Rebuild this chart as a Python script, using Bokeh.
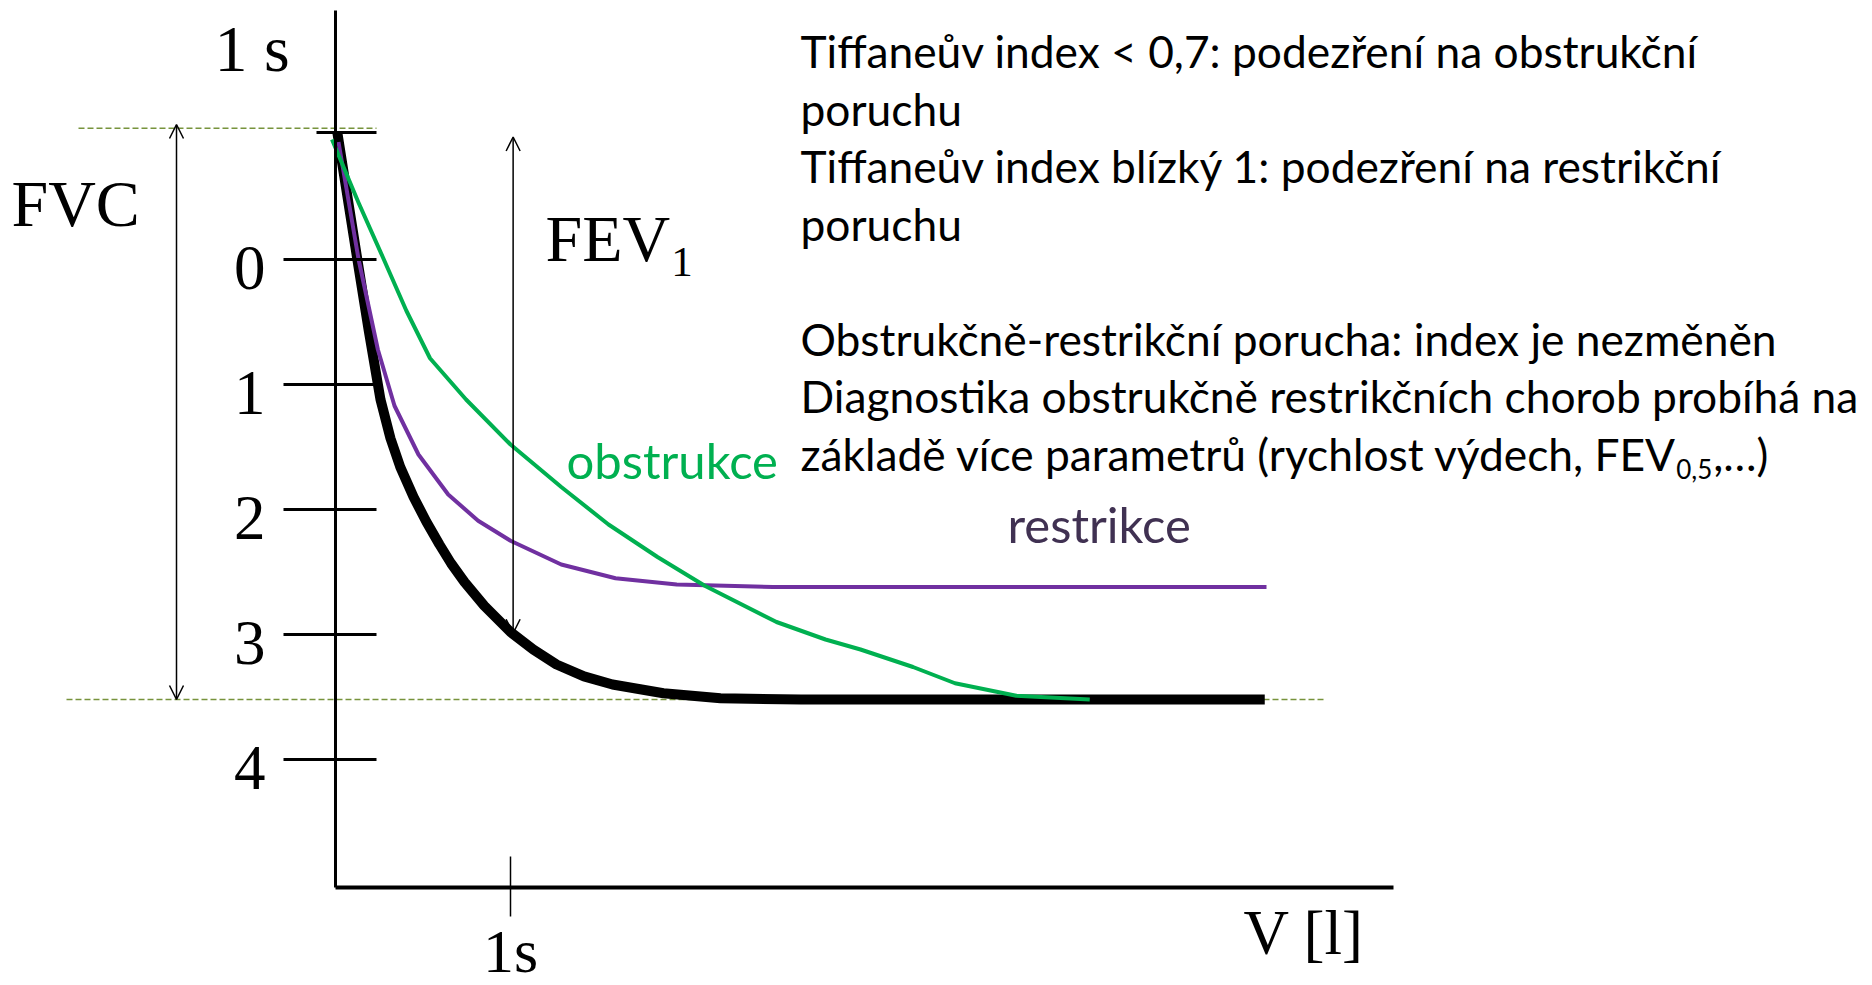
import glob
from bokeh.plotting import figure
from bokeh.models import Range1d, LinearAxis, FixedTicker, Arrow, OpenHead
from bokeh.core.properties import value
from bokeh.embed import file_html
from bokeh.resources import INLINE

# ---------------- data (time in s, volume in l, volume axis drawn downward) ----------------
t_normal = [0.01, 0.126, 0.19, 0.257, 0.314, 0.37, 0.446, 0.52, 0.594, 0.66, 0.737, 0.85, 1.0,
            1.13, 1.263, 1.42, 1.583, 1.874, 2.2, 2.66, 5.31]
v_normal = [-1.02, 0.01, 0.57, 1.12, 1.43, 1.66, 1.90, 2.10, 2.28, 2.43, 2.58, 2.77, 2.98,
            3.12, 3.24, 3.335, 3.40, 3.47, 3.51, 3.52, 3.52]

t_restr = [0.017, 0.132, 0.242, 0.337, 0.474, 0.644, 0.815, 1.0, 1.29, 1.6, 1.95, 2.5, 5.32]
v_restr = [-0.94, 0.0, 0.72, 1.17, 1.56, 1.88, 2.09, 2.25, 2.44, 2.55, 2.60, 2.62, 2.62]

t_obstr = [-0.02, 0.133, 0.27, 0.405, 0.54, 0.746, 1.0, 1.29, 1.56, 1.84, 2.11, 2.52, 2.8,
           3.0, 3.3, 3.54, 3.89, 4.31]
v_obstr = [-0.96, -0.45, -0.02, 0.41, 0.79, 1.12, 1.48, 1.82, 2.12, 2.38, 2.61, 2.90, 3.04,
           3.12, 3.26, 3.39, 3.49, 3.52]

y_ticks = [0, 1, 2, 3, 4]
y_tick_labels = ["0", "1", "2", "3", "4"]
x_ticks = [1]
x_tick_labels = {1: "1s"}

v_start = -1.02        # start of the expiration (top marker)
fvc_end = 3.52         # forced vital capacity level
fev1_t = 1.0           # 1 second
fev1_end = 2.99        # volume after 1 s

info_lines = [
    "Tiffaneův index < 0,7: podezření na obstrukční",
    "poruchu",
    "Tiffaneův index blízký 1: podezření na restrikční",
    "poruchu",
    "Obstrukčně-restrikční porucha: index je nezměněn",
    "Diagnostika obstrukčně restrikčních chorob probíhá na",
    "základě více parametrů (rychlost výdech, FEV",
]
info_rows = [0, 1, 2, 3, 5, 6, 7]
info_sub = "0,5"
info_tail = ",…)"

# ---------------- layout helpers (page pixel -> data) ----------------
W, H = 1872, 985
PX_T, PX_V = 175.0, 125.0          # pixels per second / per litre
def X(px):
    return (px - 335) / PX_T
def Y(py):
    return (py - 259) / PX_V

SERIF = "Liberation Serif"
SANS = "Lato"

# text width measurement (for placing subscripts right after the text)
_font_files = {}
def _find(name):
    pats = {"Lato": "Lato-Regular.ttf", "Liberation Serif": "LiberationSerif-Regular.ttf"}
    for root in ["/usr/share/fonts", "/usr/local/share/fonts"]:
        hits = glob.glob(root + "/**/" + pats[name], recursive=True)
        if hits:
            return hits[0]
    return None

def text_width(s, font, size):
    try:
        from PIL import ImageFont
        if font not in _font_files:
            _font_files[font] = _find(font)
        f = ImageFont.truetype(_font_files[font], int(round(size)))
        return f.getlength(s) * size / int(round(size))
    except Exception:
        return len(s) * 0.5 * size

p = figure(width=W, height=H, output_backend="svg", toolbar_location=None,
           x_range=Range1d(X(0), X(W)), y_range=Range1d(Y(H), Y(0)),
           x_axis_location=None, y_axis_location=None, min_border=0,
           outline_line_color=None, background_fill_color="white")
p.grid.visible = False

# y axis (volume)
yaxis = LinearAxis(fixed_location=0, bounds=(Y(10), Y(887)), ticker=FixedTicker(ticks=y_ticks),
                   axis_line_width=3, axis_line_color="black",
                   major_tick_line_width=3, major_tick_out=52, major_tick_in=41,
                   minor_tick_line_color=None,
                   major_label_text_color=None, major_label_text_font_size="1px")
p.add_layout(yaxis, "left")

# top marker tick
topaxis = LinearAxis(fixed_location=0, ticker=FixedTicker(ticks=[v_start]),
                     axis_line_color=None, major_tick_line_width=3,
                     major_tick_out=19, major_tick_in=41, minor_tick_line_color=None,
                     major_label_text_color=None, major_label_text_font_size="1px")
p.add_layout(topaxis, "left")

# x axis (time)
xaxis = LinearAxis(fixed_location=Y(887), bounds=(0, X(1393)), ticker=FixedTicker(ticks=x_ticks),
                   major_label_overrides=x_tick_labels,
                   axis_line_width=4, axis_line_color="black",
                   major_tick_line_width=1.5, major_tick_in=31, major_tick_out=29,
                   minor_tick_line_color=None, major_label_standoff=0,
                   major_label_text_font=SERIF, major_label_text_font_size="62px",
                   major_label_text_color="black")
p.add_layout(xaxis, "below")

BASE_SHIFT = 0.36   # rendered baseline sits this many em below the requested one

# y tick labels (below-centred on their ticks, as in the reference)
p.text(x=[X(265)] * len(y_ticks), y=[v + (31 - BASE_SHIFT * 63) / PX_V for v in y_ticks],
       text=y_tick_labels, text_font=value(SERIF), text_font_size=value("63px"),
       text_color="black", text_align="right", text_baseline="alphabetic")

# dashed reference levels
p.segment(x0=[X(78), X(66)], y0=[v_start - 0.03, fvc_end], x1=[X(376), X(1323)], y1=[v_start - 0.03, fvc_end],
          line_color="#77933C", line_width=1.6, line_dash="6 3")

# curves
p.line(t_normal, v_normal, line_color="black", line_width=10, line_join="round")
p.line(t_restr, v_restr, line_color="#7030A0", line_width=4, line_join="round")
p.line(t_obstr, v_obstr, line_color="#00B050", line_width=4, line_join="round")

# arrows FVC and FEV1
for tx, y0, y1 in [(X(176), v_start - 0.06, fvc_end), (fev1_t + 0.015, v_start + 0.04, fev1_end)]:
    p.add_layout(Arrow(x_start=tx, y_start=y0, x_end=tx, y_end=y1, line_width=1.5,
                       start=OpenHead(size=14, line_width=1.5), end=OpenHead(size=14, line_width=1.5)))

def txt(px, baseline, s, font, size, color="black"):
    p.text(x=[X(px)], y=[Y(baseline - BASE_SHIFT * size)], text=[s], text_font=value(font),
           text_font_size=value("%gpx" % size), text_color=color,
           text_align="left", text_baseline="alphabetic")

# serif labels
txt(214, 72, "1 s", SERIF, 66)
txt(11, 227, "FVC", SERIF, 66)
txt(545, 262, "FEV", SERIF, 66)
txt(545 + text_width("FEV", SERIF, 66) + 1, 277, "1", SERIF, 43)
txt(1243, 955, "V [l]", SERIF, 63)

# curve names
txt(566, 477, "obstrukce", SANS, 49, "#00B050")
txt(1007, 541, "restrikce", SANS, 49, "#403152")

# info text
BODY = 44.3
base0, step = 66, 57.5
for s, r in zip(info_lines, info_rows):
    txt(800, base0 + r * step, s, SANS, BODY)
last_base = base0 + 7 * step
SUB = 26
sx = 800 + text_width(info_lines[-1], SANS, BODY) + 1
txt(sx, last_base + 9, info_sub, SANS, SUB)
txt(sx + text_width(info_sub, SANS, SUB) + 1, last_base, info_tail, SANS, BODY)

open("out.html", "w").write(file_html(p, INLINE))
